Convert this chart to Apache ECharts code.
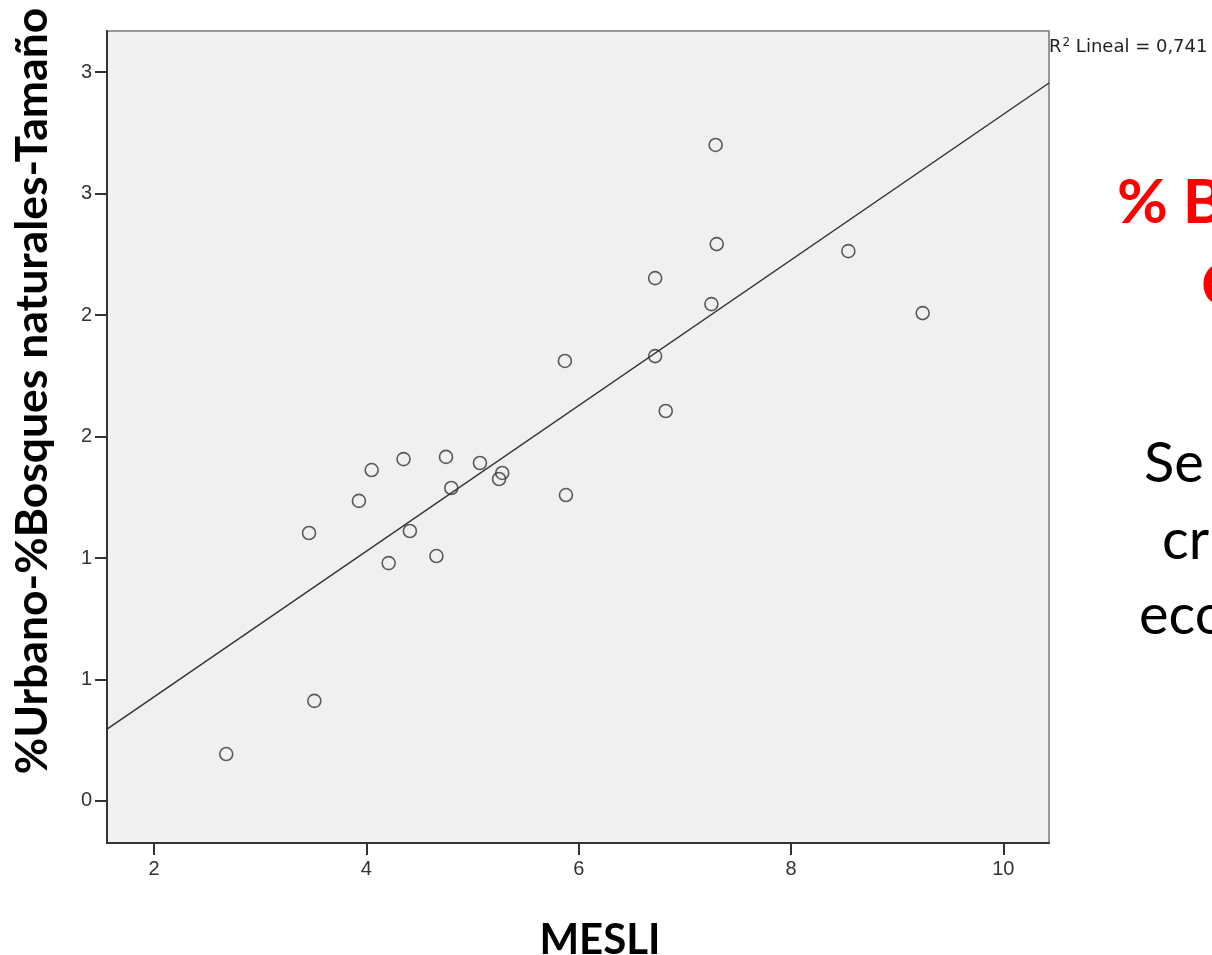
<!DOCTYPE html>
<html>
<head>
<meta charset="utf-8">
<script src="https://cdn.jsdelivr.net/npm/echarts@6/dist/echarts.min.js"></script>
<style>
html,body{margin:0;padding:0;background:#fff;}
#chart{width:1212px;height:955px;}
</style>
</head>
<body>
<div id="chart"></div>
<script>
// MESLI (x) values
const mesli = [2.68, 3.51, 3.46, 3.93, 4.05, 4.35, 4.21, 4.41, 4.66, 4.75, 4.80, 5.07, 5.25, 5.28, 5.87, 5.88, 6.72, 6.72, 6.82, 7.25, 7.29, 7.30, 8.54, 9.24];
// %Urbano-%Bosques naturales-Tamaño (y) values
const urbano = [0.193, 0.412, 1.103, 1.235, 1.362, 1.407, 0.979, 1.111, 1.008, 1.416, 1.288, 1.391, 1.325, 1.350, 1.811, 1.259, 2.152, 1.831, 1.605, 2.045, 2.700, 2.292, 2.263, 2.008];
// Linear fit line (end points)
const fitX = [1.557, 10.43];
const fitY = [0.296, 2.955];
// Tick values
const xTicks = [2, 4, 6, 8, 10];
const yTicks = [0, 0.5, 1, 1.5, 2, 2.5, 3];
// Texts
const xTitle = 'MESLI';
const yTitle = '%Urbano-%Bosques naturales-Tamaño';
const r2Label = ' Lineal = 0,741';
const sideRed = ['% B', 'C'];
const sideBlack = ['Se', 'cr', 'eco'];

const chart = echarts.init(document.getElementById('chart'), null, {renderer: 'canvas'});

const scatterData = mesli.map((x, i) => [x, urbano[i]]);
const fitData = fitX.map((x, i) => [x, fitY[i]]);

const option = {
  backgroundColor: '#ffffff',
  animation: false,
  grid: {
    left: 107, right: 163, top: 31, bottom: 112,
    show: true, backgroundColor: '#f0f0f0', borderColor: '#777', borderWidth: 1.5
  },
  xAxis: {
    type: 'value', min: 1.557, max: 10.43,
    splitLine: {show: false},
    axisLine: {show: true, onZero: false, lineStyle: {color: '#333', width: 2}},
    axisTick: {show: true, length: 12, customValues: xTicks, lineStyle: {color: '#333', width: 2}},
    axisLabel: {customValues: xTicks, margin: 16, color: '#333', fontSize: 20, fontFamily: 'Liberation Sans'}
  },
  yAxis: {
    type: 'value', min: -0.173, max: 3.169,
    splitLine: {show: false},
    axisLine: {show: true, onZero: false, lineStyle: {color: '#333', width: 2}},
    axisTick: {show: true, length: 12, customValues: yTicks, lineStyle: {color: '#333', width: 2}},
    axisLabel: {customValues: yTicks, margin: 15, color: '#333', fontSize: 20, fontFamily: 'Liberation Sans',
      formatter: v => String(Math.round(v))}
  },
  series: [
    {
      type: 'line', data: fitData, symbol: 'none', silent: true,
      lineStyle: {color: '#333', width: 1.5}, z: 2
    },
    {
      type: 'scatter', data: scatterData, symbol: 'circle', symbolSize: 13,
      itemStyle: {color: 'rgba(0,0,0,0)', borderColor: '#333', borderWidth: 1.6}, z: 3
    }
  ],
  graphic: [
    {
      type: 'text', left: 1049, top: 37,
      style: {
        text: '{a|R}{s|2}{a|' + r2Label + '}',
        rich: {
          a: {fontSize: 18, fontFamily: 'DejaVu Sans', fill: '#222', verticalAlign: 'bottom'},
          s: {fontSize: 12, fontFamily: 'DejaVu Sans', fill: '#222', verticalAlign: 'top', padding: [0, 0, 7, 1]}
        }
      }
    },
    {
      type: 'text', x: 600, y: 940,
      style: {text: xTitle, font: 'bold 42px Lato', fill: '#000', align: 'center', verticalAlign: 'middle'}
    },
    {
      type: 'text', x: 33, y: 391, rotation: Math.PI / 2,
      style: {text: yTitle, font: 'bold 44.5px Lato', fill: '#000', align: 'center', verticalAlign: 'middle'}
    },
    {
      type: 'text', x: 1117, y: 234,
      style: {text: sideRed[0], font: 'bold 62px Lato', fill: '#ff0000', align: 'left', verticalAlign: 'bottom'}
    },
    {
      type: 'text', x: 1201, y: 317,
      style: {text: sideRed[1], font: 'bold 62px Lato', fill: '#ff0000', align: 'left', verticalAlign: 'bottom'}
    },
    {
      type: 'text', x: 1144, y: 492,
      style: {text: sideBlack[0], font: '56px Lato', fill: '#000', align: 'left', verticalAlign: 'bottom'}
    },
    {
      type: 'text', x: 1162, y: 569,
      style: {text: sideBlack[1], font: '56px Lato', fill: '#000', align: 'left', verticalAlign: 'bottom'}
    },
    {
      type: 'text', x: 1139, y: 644,
      style: {text: sideBlack[2], font: '56px Lato', fill: '#000', align: 'left', verticalAlign: 'bottom'}
    }
  ]
};
chart.setOption(option);
</script>
</body>
</html>
